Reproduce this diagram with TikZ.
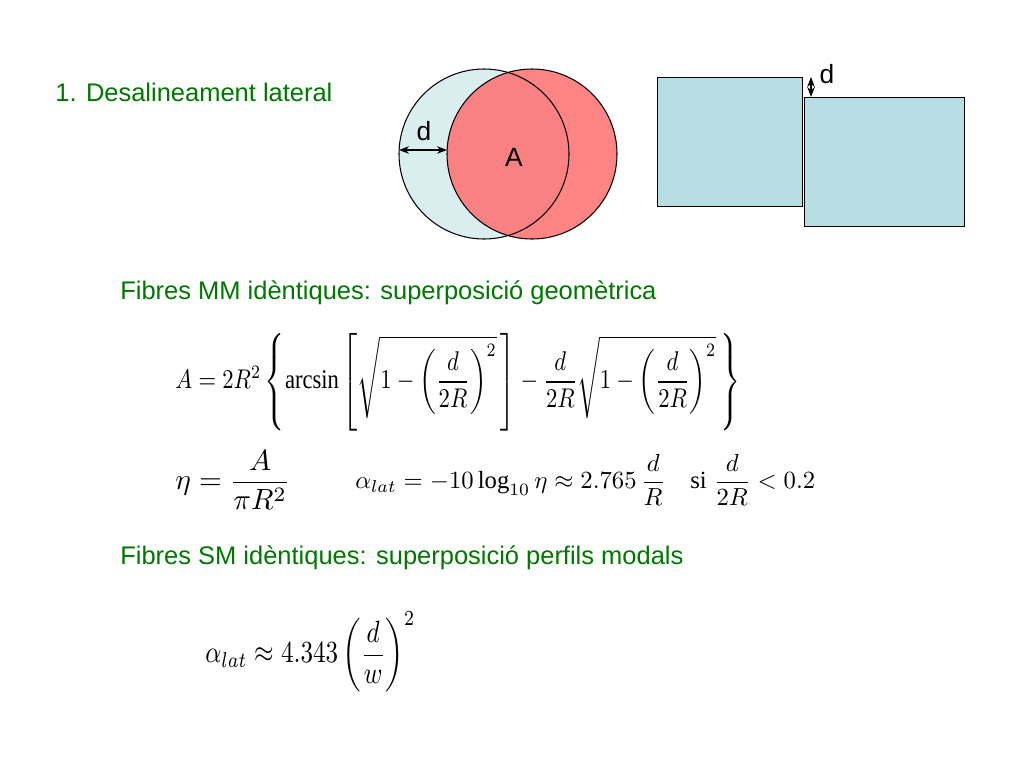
\documentclass[tikz,border=0pt]{standalone}
\usepackage{fontspec}
\usepackage{amsmath}
\usepackage{graphicx}
\setmainfont{Liberation Serif}
\newfontfamily\arialfont{Liberation Sans}
\usepackage{tikz}
\usetikzlibrary{arrows.meta, positioning}
\definecolor{TitleGreen}{RGB}{0, 120, 0}
\definecolor{FibreBlue}{RGB}{218, 238, 240}
\definecolor{FibreRed}{RGB}{255, 110, 110}
\definecolor{BlockBlue}{RGB}{183, 222, 227}
\begin{document}
\begin{tikzpicture}[x=0.02cm, y=-0.02cm,
        label/.style={text=TitleGreen, font=\arialfont\fontsize{14.5}{17}\selectfont, anchor=west, inner sep=0pt},
        formula/.style={anchor=west, inner sep=0pt},
        dim/.style={{Stealth[length=2mm]}-{Stealth[length=2mm]}, semithick},
        block/.style={draw, semithick, fill=BlockBlue}
    ]
        \useasboundingbox (0,0) rectangle (1024,768);
        % Title
        \node[label] (title) at (55,92) {1. Desalineament lateral};

        % Displaced cores
        \fill[FibreBlue] (484,154) circle (85);
        \fill[FibreRed, opacity=0.85] (532,154) circle (85);
        \draw[semithick] (484,154) circle (85);
        \draw[semithick] (532,154) circle (85);
        \coordinate (dl) at (399,150);
        \coordinate (dr) at (447,150);
        \draw[dim] (dl) -- (dr);
        \node[font=\arialfont\fontsize{15}{18}\selectfont] (dcirc) at (424,131) {d};
        \node[font=\arialfont\fontsize{15}{18}\selectfont] (area) at (514,157) {A};

        % Displaced blocks
        \node[block, minimum width=145*0.02cm, minimum height=129*0.02cm, anchor=north west] (blockl) at (657,77) {};
        \node[block, minimum width=160*0.02cm, minimum height=129*0.02cm, anchor=north west] (blockr) at (804,97) {};
        \coordinate (dt) at (811,77);
        \coordinate (db) at (811,97);
        \draw[dim] (dt) -- (db);
        \node[font=\arialfont\fontsize{15}{18}\selectfont] (dblock) at (827,74) {d};

        % Multimode
        \node[label] (mm) at (120,293) {Fibres MM idèntiques: superposició geomètrica};
        \node[formula] (eqa) at (175,382) {\resizebox*{11.3cm}{1.95cm}{$A=2R^2\left\{\arcsin\left[\sqrt{1-\left(\dfrac{d}{2R}\right)^{2}}\,\right]-\dfrac{d}{2R}\sqrt{1-\left(\dfrac{d}{2R}\right)^{2}}\,\right\}$}};
        \node[formula] (eqeta) at (175,480) {\resizebox{2.3cm}{!}{$\eta=\dfrac{A}{\pi R^2}$}};
        \node[formula] (eqloss) at (355,480) {\resizebox{9.2cm}{!}{$\alpha_{lat}=-10\log_{10}\eta\approx 2.765\,\dfrac{d}{R}\quad\text{si}\;\dfrac{d}{2R}<0.2$}};

        % Single mode
        \node[label] (sm) at (120,558) {Fibres SM idèntiques: superposició perfils modals};
        \node[formula] (eqsm) at (205,652) {\resizebox*{4.2cm}{1.6cm}{$\alpha_{lat}\approx 4.343\left(\dfrac{d}{w}\right)^{2}$}};
\end{tikzpicture}
\end{document}
